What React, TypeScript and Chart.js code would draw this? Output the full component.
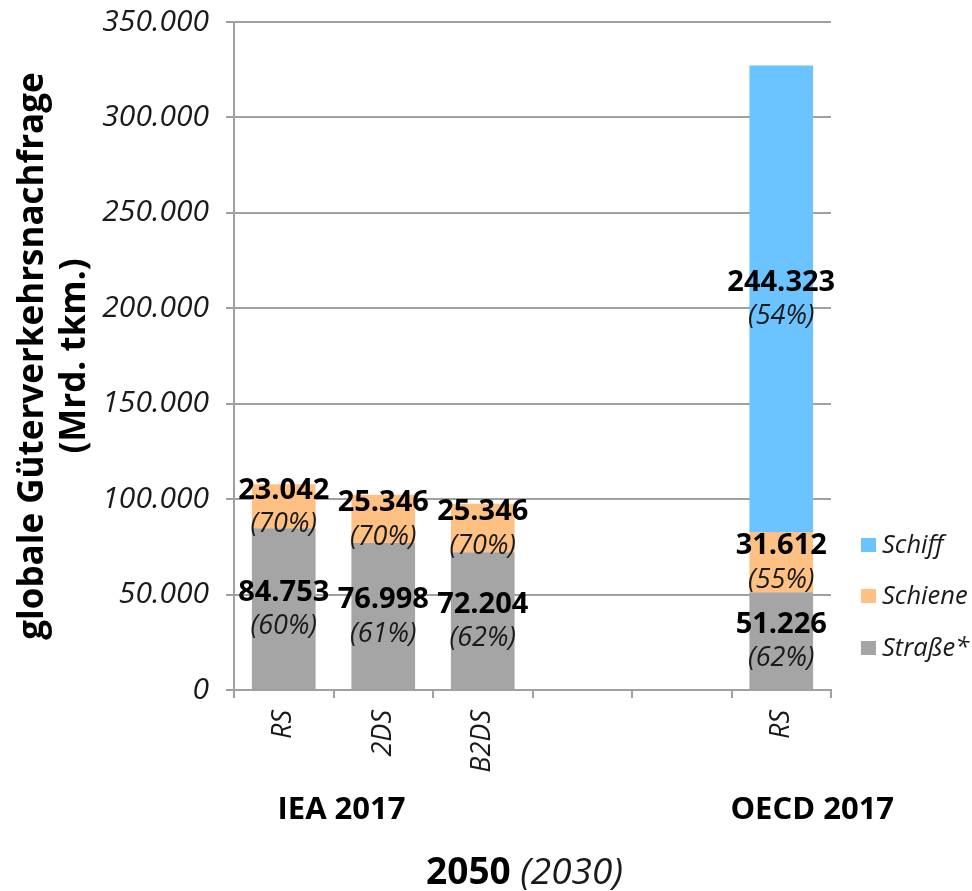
import React, { useEffect, useRef } from 'react';
import { Chart, registerables } from 'chart.js';

Chart.register(...registerables);

const categories = ['RS', '2DS', 'B2DS', '', '', 'RS'];
const strasseValues = [84753, 76998, 72204, null, null, 51226];
const schieneValues = [23042, 25346, 25346, null, null, 31612];
const schiffValues = [null, null, null, null, null, 244323];
const strassePct = [60, 61, 62, null, null, 62];
const schienePct = [70, 70, 70, null, null, 55];
const schiffPct = [null, null, null, null, null, 54];
const seriesNames = ['Straße*', 'Schiene', 'Schiff'];
const seriesColors = ['#A5A5A5', '#FFC183', '#6BC3FF'];
const yMin = 0;
const yMax = 350000;
const yStep = 50000;
const yTitle = ['globale Güterverkehrsnachfrage', '(Mrd. tkm.)'];
const groupLabels = ['IEA 2017', 'OECD 2017'];
const xTitleBold = '2050';
const xTitleItalic = '(2030)';

const FONT = '"Open Sans", "Segoe UI", sans-serif';

const fmt = (v: number) =>
  String(Math.round(v)).replace(/\B(?=(\d{3})+(?!\d))/g, '.');

const pctSets = [strassePct, schienePct, schiffPct];

const labelsPlugin = {
  id: 'segLabels',
  afterDatasetsDraw(chart: any) {
    const ctx = chart.ctx;
    ctx.save();
    ctx.textAlign = 'center';
    ctx.textBaseline = 'middle';
    chart.data.datasets.forEach((ds: any, i: number) => {
      const meta = chart.getDatasetMeta(i);
      meta.data.forEach((bar: any, j: number) => {
        const v = ds.data[j];
        if (v == null) return;
        const p = bar.getProps(['x', 'y', 'base'], true);
        const c = (p.y + p.base) / 2;
        ctx.fillStyle = '#000';
        ctx.font = `bold 29px ${FONT}`;
        ctx.fillText(fmt(v), p.x, c - 16);
        const pct = pctSets[i][j];
        if (pct != null) {
          ctx.fillStyle = '#1a1a1a';
          ctx.font = `italic 27px ${FONT}`;
          ctx.fillText(`(${pct}%)`, p.x, c + 18);
        }
      });
    });
    ctx.restore();
  },
};

const extrasPlugin = {
  id: 'extras',
  afterDraw(chart: any) {
    const ctx = chart.ctx;
    const area = chart.chartArea;
    const xs = chart.scales.x;
    ctx.save();
    // group labels
    ctx.fillStyle = '#000';
    ctx.textAlign = 'center';
    ctx.textBaseline = 'middle';
    ctx.font = `bold 31px ${FONT}`;
    const g1 = (xs.getPixelForValue(0) + xs.getPixelForValue(1)) / 2 + 8;
    const g2 = xs.getPixelForValue(5) + 31;
    ctx.fillText(groupLabels[0], g1, area.bottom + 120);
    ctx.fillText(groupLabels[1], g2, area.bottom + 120);
    // main title
    ctx.textAlign = 'left';
    ctx.font = `bold 37px ${FONT}`;
    const wB = ctx.measureText(xTitleBold + ' ').width;
    ctx.font = `italic 37px ${FONT}`;
    const wI = ctx.measureText(xTitleItalic).width;
    const cx = (area.left + area.right) / 2 - 8;
    const sx = cx - (wB + wI) / 2;
    const ty = area.bottom + 183;
    ctx.font = `bold 37px ${FONT}`;
    ctx.fillText(xTitleBold + ' ', sx, ty);
    ctx.font = `italic 37px ${FONT}`;
    ctx.fillStyle = '#1a1a1a';
    ctx.fillText(xTitleItalic, sx + wB, ty);
    // legend
    const lx = area.right + 30;
    const offs = [42, 94, 145];
    ctx.font = `italic 25.5px ${FONT}`;
    for (let k = 0; k < seriesNames.length; k++) {
      const y = area.bottom - offs[k];
      ctx.fillStyle = seriesColors[k];
      ctx.fillRect(lx, y - 7, 15, 14);
      ctx.fillStyle = '#1a1a1a';
      ctx.fillText(seriesNames[k], lx + 21, y + 1);
    }
    ctx.restore();
  },
};

export default function App() {
  const ref = useRef<HTMLCanvasElement | null>(null);
  useEffect(() => {
    if (!ref.current) return;
    const chart = new Chart(ref.current, {
      type: 'bar',
      data: {
        labels: categories,
        datasets: [
          { label: seriesNames[0], data: strasseValues, backgroundColor: seriesColors[0] },
          { label: seriesNames[1], data: schieneValues, backgroundColor: seriesColors[1] },
          { label: seriesNames[2], data: schiffValues, backgroundColor: seriesColors[2] },
        ] as any,
      },
      options: {
        animation: false,
        responsive: false,
        layout: { padding: { left: 0, right: 141, top: 22, bottom: 0 } },
        datasets: { bar: { barPercentage: 0.64, categoryPercentage: 1 } } as any,
        plugins: {
          legend: { display: false },
          tooltip: { enabled: false },
        },
        scales: {
          x: {
            stacked: true,
            afterFit: (s: any) => { s.height = 201; s.paddingLeft = 0; s.paddingRight = 0; },
            grid: { drawOnChartArea: false, drawTicks: true, tickLength: 8, color: '#A0A0A0', lineWidth: 2, offset: true },
            border: { display: true, color: '#A0A0A0', width: 2 },
            ticks: {
              maxRotation: 90, minRotation: 90, padding: 12, autoSkip: false,
              color: '#1a1a1a',
              font: { family: FONT, size: 27, style: 'italic' },
            },
          },
          y: {
            stacked: true,
            min: yMin, max: yMax,
            afterFit: (s: any) => { s.width = 234; s.paddingTop = 0; s.paddingBottom = 0; },
            grid: { color: '#A0A0A0', lineWidth: 2, tickLength: 8 },
            border: { display: true, color: '#A0A0A0', width: 2 },
            ticks: {
              stepSize: yStep,
              padding: 17,
              color: '#1a1a1a',
              font: { family: FONT, size: 30, style: 'italic' },
              callback: (v: any) => fmt(Number(v)),
            },
            title: {
              display: true,
              text: yTitle,
              color: '#000',
              padding: { top: 12, bottom: 0 },
              font: { family: FONT, size: 35, weight: 'bold', lineHeight: 1.2 },
            },
          },
        },
      },
      plugins: [labelsPlugin, extrasPlugin],
    });
    return () => chart.destroy();
  }, []);
  return (
    <div style={{ position: 'absolute', left: 0, top: 0, width: 972, height: 891 }}>
      <canvas ref={ref} width={972} height={891} style={{ display: 'block' }} />
    </div>
  );
}
